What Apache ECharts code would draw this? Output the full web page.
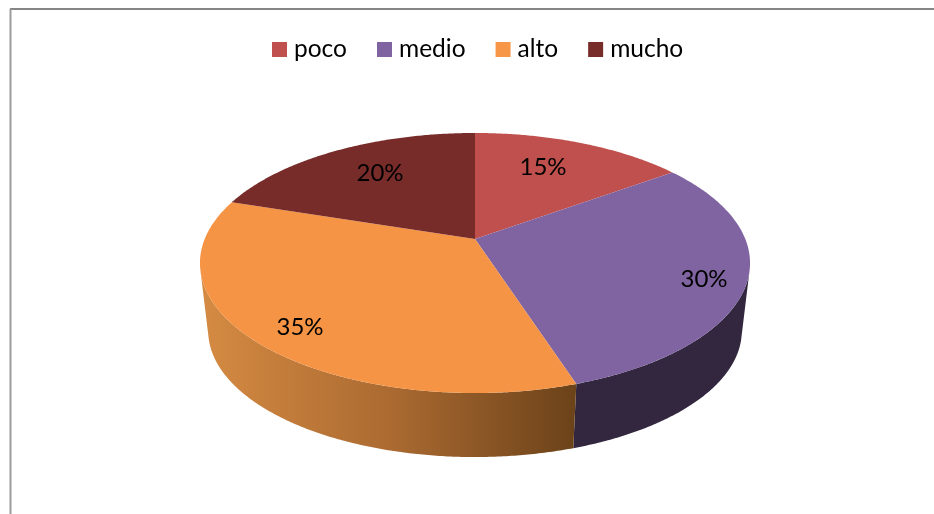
<!DOCTYPE html>
<html><head><meta charset="utf-8">
<style>html,body{margin:0;padding:0;background:#fff}#c{width:934px;height:514px}</style>
<script src="https://cdn.jsdelivr.net/npm/echarts@6/dist/echarts.min.js"></script>
</head><body><div id="c"></div>
<script>
// Data
const categories = ['poco', 'medio', 'alto', 'mucho'];
const values = [15, 30, 35, 20];
const legendColors = ['#C0504D', '#8064A2', '#F79646', '#772C2A'];
const topColors = ['#C0504D', '#8064A2', '#F59445', '#772C2A'];
// Layout (not data)
const labelAnchors = [[543, 167], [704, 279], [300, 327], [380, 173]];
const apex = [475, 239], radX = 270.3, radY = 125.6, persp = 0.1846;
const vanish = [475, 2527], bottomScale = 0.97;
const wallFill = [null, '#32273F', {
  type: 'linear', global: true, x: 205, y: 0, x2: 577, y2: 0,
  colorStops: [{offset: 0, color: '#D48A42'}, {offset: 0.5, color: '#AB6A31'}, {offset: 1, color: '#6B4219'}]
}, null];

const total = values.reduce((a, b) => a + b, 0);
function rim(deg, bottom) {
  const t = deg * Math.PI / 180, w = 1 + persp * Math.cos(t);
  const x = apex[0] + radX * Math.sin(t) / w, y = apex[1] - radY * Math.cos(t) / w;
  return bottom ? [vanish[0] + bottomScale * (x - vanish[0]), vanish[1] + bottomScale * (y - vanish[1])] : [x, y];
}
// Silhouette of the solid: rim angle whose extrusion edge is tangent to the top rim.
function silhouetteAngle() {
  let best = 90, bestSlope = -Infinity;
  for (let d = 80; d <= 150; d += 0.1) {
    const p = rim(d, false), s = (p[0] - vanish[0]) / (vanish[1] - p[1]);
    if (s > bestSlope) { bestSlope = s; best = d; }
  }
  return best;
}
const silhouette = silhouetteAngle();
function arc(a, b, bottom) {
  const pts = [], n = Math.max(2, Math.ceil((b - a) * 2));
  for (let i = 0; i <= n; i++) pts.push(rim(a + (b - a) * i / n, bottom));
  return pts;
}
function slice(idx) {
  return function (params, api) {
    const before = values.slice(0, idx).reduce((a, b) => a + b, 0);
    const a = before / total * 360, b = (before + api.value(0)) / total * 360;
    const children = [];
    const wa = Math.max(a, silhouette), wb = Math.min(b, 360 - silhouette);
    if (wa < wb && wallFill[idx]) {
      children.push({
        type: 'polygon', z2: 1,
        shape: {points: arc(wa, wb, false).concat(arc(wa, wb, true).reverse())},
        style: {fill: wallFill[idx]}
      });
    }
    children.push({
      type: 'polygon', z2: 5,
      shape: {points: [apex].concat(arc(a, b, false))},
      style: {fill: topColors[idx]}
    });
    children.push({
      type: 'text', z2: 10,
      x: labelAnchors[idx][0], y: labelAnchors[idx][1],
      style: {text: api.value(0) + '%', font: '24px Lato', fill: '#000', align: 'center', verticalAlign: 'middle'}
    });
    return {type: 'group', children};
  };
}
const chart = echarts.init(document.getElementById('c'), null, {renderer: 'canvas'});
chart.setOption({
  animation: false,
  backgroundColor: '#fff',
  legend: {
    left: 272, top: 37, padding: 0, icon: 'rect', itemWidth: 15, itemHeight: 15, itemGap: 30,
    data: categories,
    textStyle: {fontFamily: 'Lato', fontSize: 24.5, color: '#000', padding: [0, 0, 0, 2]}
  },
  graphic: [
    {type: 'line', shape: {x1: 10, y1: 9, x2: 934, y2: 9}, style: {stroke: '#868686', lineWidth: 2}},
    {type: 'line', shape: {x1: 10.5, y1: 9, x2: 10.5, y2: 514}, style: {stroke: '#9C9C9C', lineWidth: 2}}
  ],
  series: categories.map((name, i) => ({
    type: 'custom', name, coordinateSystem: 'none',
    itemStyle: {color: legendColors[i]},
    renderItem: slice(i),
    data: [[values[i]]]
  }))
});
</script></body></html>
